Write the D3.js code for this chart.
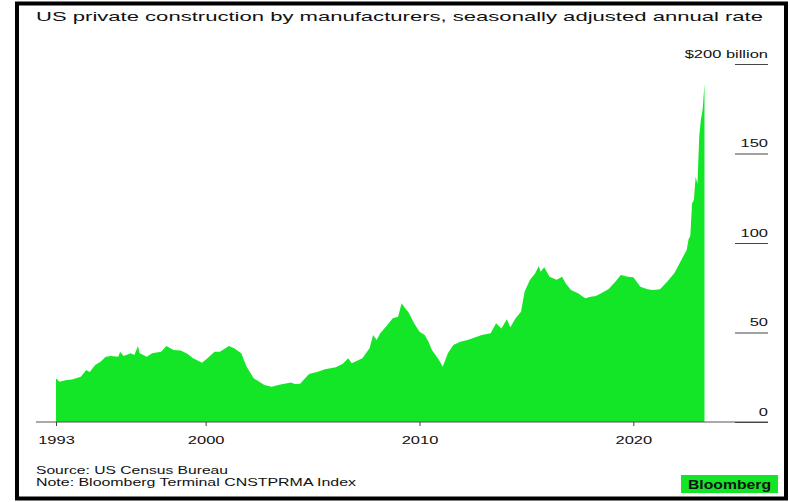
<!DOCTYPE html>
<html>
<head>
<meta charset="utf-8">
<script src="https://cdn.jsdelivr.net/npm/d3@7"></script>
<style>
  body { margin: 0; background: #fff; }
  svg { display: block; font-family: "Liberation Sans", Arial, sans-serif; }
</style>
</head>
<body>
<div id="chart"></div>
<script>
// months and values ($ billions, SAAR)
var months = [
  "1993-01","1993-03","1993-07","1993-10","1994-03","1994-06","1994-08","1994-11",
  "1995-02","1995-05","1995-08","1995-12","1996-01","1996-03","1996-07","1996-09",
  "1996-11","1996-12","1997-04","1997-07","1997-12","1998-03","1998-07","1998-11",
  "1999-03","1999-06","1999-11","2000-02","2000-06","2000-09","2001-02","2001-05",
  "2001-09","2001-12","2002-04","2002-10","2003-02","2003-07","2004-01","2004-03",
  "2004-06","2004-11","2005-04","2005-08","2006-02","2006-06","2006-09","2006-11",
  "2007-05","2007-09","2007-11","2008-01","2008-03","2008-07","2008-10","2009-01",
  "2009-03","2009-05","2009-07","2009-10","2010-01","2010-04","2010-06","2010-08",
  "2010-12","2011-02","2011-05","2011-08","2011-12","2012-04","2012-12","2013-05",
  "2013-08","2013-11","2014-02","2014-04","2014-07","2014-10","2014-12","2015-03",
  "2015-06","2015-08","2015-09","2015-11","2016-02","2016-06","2016-09","2016-11",
  "2017-02","2017-06","2017-10","2018-01","2018-04","2018-07","2018-11","2019-03",
  "2019-06","2019-10","2020-01","2020-05","2020-09","2020-12","2021-04","2021-08",
  "2021-12","2022-04","2022-07","2022-08","2022-09","2022-10","2022-11","2022-12",
  "2023-01","2023-02","2023-03","2023-04","2023-05"
];
var values = [
  24.4,22.5,23.5,23.8,25.3,29,28,31.8,
  33.7,36.5,36.9,36.5,39.3,36.9,38.4,37.4,
  42.5,38.4,36.5,38.4,39.3,42.5,40.2,39.9,
  38,35.6,33.1,35.6,39.3,39.3,42.5,41.2,
  38.4,30.9,24.4,20.7,19.7,21,22,21.2,
  21.4,26.8,28.1,29.4,30.6,32.5,35.6,32.8,
  35.6,41.2,48.6,45.8,49.6,54.2,57.9,58.8,
  66.3,63.5,61,55.1,50.4,48.6,45,40.2,
  34.6,30.9,38.4,43,44.9,45.8,48.6,49.6,
  55.1,52.3,57.4,52.9,57.9,61.6,72.8,79.3,
  83.1,87.2,84,86.4,81.2,79.5,81.2,77.5,
  73.7,71.9,69.1,70,70.4,71.9,74.1,78.4,
  82.1,81.2,80.8,75.6,74.1,73.7,74.1,78.4,
  83.1,90.5,96.1,102,104,122,124,137,
  133,160,169,175,189
];
var yTicks = [0, 50, 100, 150, 200];
var xTickYears = [1993, 2000, 2010, 2020];

var title = "US private construction by manufacturers, seasonally adjusted annual rate";
var source = "Source: US Census Bureau";
var note = "Note: Bloomberg Terminal CNSTPRMA Index";

var width = 790, height = 502;
var green = "#13e626";
var sx = 1.42; // text in the picture is stretched sideways

var parse = d3.timeParse("%Y-%m");
var data = months.map(function (m, i) { return { date: parse(m), value: values[i] }; });

var x = d3.scaleTime()
  .domain([new Date(1993, 0, 1), new Date(2020, 0, 1)])
  .range([56, 633.3]);
var y = d3.scaleLinear().domain([0, 200]).range([422, 64]);

var svg = d3.select('#chart').append('svg')
  .attr('width', width)
  .attr('height', height);

svg.append('rect').attr('width', width).attr('height', height).attr('fill', '#fff');

// frame
svg.append('rect')
  .attr('x', 17).attr('y', 3.5)
  .attr('width', 769).attr('height', 495)
  .attr('fill', 'none')
  .attr('stroke', '#000')
  .attr('stroke-width', 4);

// title
svg.append('text')
  .attr('x', 36).attr('y', 21)
  .attr('font-size', 13.5)
  .attr('fill', '#111')
  .attr('textLength', 727)
  .attr('lengthAdjust', 'spacingAndGlyphs')
  .text(title);

// area
var area = d3.area()
  .x(function (d) { return x(d.date); })
  .y0(y(0))
  .y1(function (d) { return y(d.value); });

svg.append('path')
  .datum(data)
  .attr('d', area)
  .attr('fill', green);

// baseline
svg.append('line')
  .attr('x1', 36).attr('x2', 768)
  .attr('y1', y(0)).attr('y2', y(0))
  .attr('stroke', '#555')
  .attr('stroke-width', 1);

// y axis on the right, short tick lines with labels above them
var yAxis = d3.axisLeft(y)
  .tickValues(yTicks)
  .tickSize(33)
  .tickFormat(function (d) { return d === 200 ? "$200 billion" : d; });

var yg = svg.append('g')
  .attr('transform', 'translate(768,0)')
  .call(yAxis);
yg.select('.domain').remove();
yg.selectAll('.tick line').attr('stroke', '#444');
yg.selectAll('.tick text')
  .attr('x', 0).attr('y', -7).attr('dy', 0)
  .attr('text-anchor', 'end')
  .attr('font-size', 11.6)
  .attr('font-family', '"Liberation Sans", Arial, sans-serif')
  .attr('fill', '#111')
  .attr('transform', 'scale(' + sx + ',1)');

// x axis
var xAxis = d3.axisBottom(x)
  .tickValues(xTickYears.map(function (yr) { return new Date(yr, 0, 1); }))
  .tickFormat(d3.timeFormat("%Y"))
  .tickSize(4)
  .tickSizeOuter(0);

var xg = svg.append('g')
  .attr('transform', 'translate(0,' + y(0) + ')')
  .call(xAxis);
xg.select('.domain').remove();
xg.selectAll('.tick line').attr('stroke', '#444');
xg.selectAll('.tick text')
  .attr('y', 0).attr('dy', 0)
  .attr('font-size', 11.6)
  .attr('font-family', '"Liberation Sans", Arial, sans-serif')
  .attr('fill', '#111')
  .attr('transform', 'translate(0,22) scale(' + sx + ',1)');

// footer
svg.append('text')
  .attr('x', 36).attr('y', 473.5)
  .attr('font-size', 11.4)
  .attr('fill', '#111')
  .attr('textLength', 192)
  .attr('lengthAdjust', 'spacingAndGlyphs')
  .text(source);

svg.append('text')
  .attr('x', 36).attr('y', 486)
  .attr('font-size', 11.4)
  .attr('fill', '#111')
  .attr('textLength', 320)
  .attr('lengthAdjust', 'spacingAndGlyphs')
  .text(note);

// logo
svg.append('rect')
  .attr('x', 681).attr('y', 475)
  .attr('width', 97).attr('height', 18)
  .attr('fill', green);
svg.append('text')
  .attr('x', 688).attr('y', 488.5)
  .attr('font-size', 12.5)
  .attr('font-weight', 'bold')
  .attr('fill', '#111')
  .attr('textLength', 83)
  .attr('lengthAdjust', 'spacingAndGlyphs')
  .text("Bloomberg");
</script>
</body>
</html>
